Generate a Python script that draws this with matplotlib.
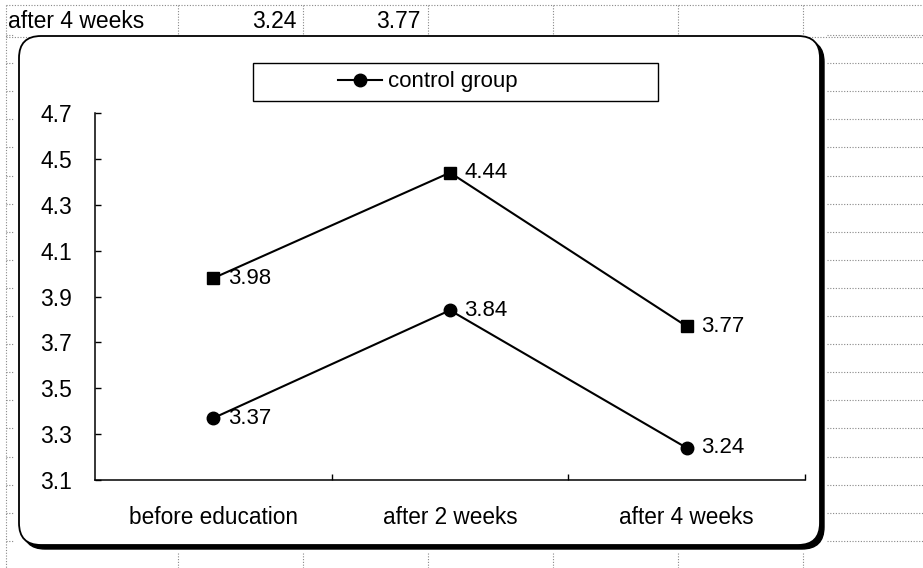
import matplotlib
matplotlib.use("Agg")
import matplotlib.pyplot as plt
from matplotlib.patches import FancyBboxPatch, Rectangle
from matplotlib.lines import Line2D

plt.rcParams['font.family'] = ['Liberation Sans', 'DejaVu Sans']

# data
categories = ["before education", "after 2 weeks", "after 4 weeks"]
control = [3.37, 3.84, 3.24]
experimental = [3.98, 4.44, 3.77]
yticks = [3.1, 3.3, 3.5, 3.7, 3.9, 4.1, 4.3, 4.5, 4.7]

W, H = 923, 568
fig = plt.figure(figsize=(W / 100, H / 100), dpi=100)
fig.patch.set_facecolor("white")


def px(x, y):
  # pixel coords from top-left -> inches from bottom-left
  return x / 100, (H - y) / 100


def grid_line(x0, y0, x1, y1):
  a = px(x0, y0)
  b = px(x1, y1)
  fig.add_artist(Line2D([a[0], b[0]], [a[1], b[1]], transform=fig.dpi_scale_trans,
                        color="#888888", lw=0.8, ls=(0, (1, 1.5)), zorder=-5))


# spreadsheet background behind the chart
grid_line(6, 5, 923, 5)
grid_line(6, 37, 923, 37)
grid_line(6, 5, 6, 568)
for k in range(19):
  y = 35 + 28.1 * k
  grid_line(827, y, 923, y)
  grid_line(6, y, 14, y)
for x in [178, 303, 428, 553, 678, 803]:
  grid_line(x, 5, x, 35)
  grid_line(x, 553, x, 568)

# row of the sheet peeking out above the chart
tx, ty = px(8, 22)
fig.text(tx / (W / 100), ty / (H / 100), categories[2], fontsize=16.5, va="center", ha="left")
for x, v in zip([296, 420], [control[2], experimental[2]]):
  tx, ty = px(x, 22)
  fig.text(tx / (W / 100), ty / (H / 100), "%.2f" % v, fontsize=16.5, va="center", ha="right")

# chart area with rounded corners and shadow on right/bottom
x0, y0 = px(19, 545)
bw, bh = (820 - 19) / 100, (545 - 36) / 100
shadow = FancyBboxPatch((x0 + 0.04, y0 - 0.04), bw, bh,
                        boxstyle="round,pad=0,rounding_size=0.22",
                        transform=fig.dpi_scale_trans, fc="black", ec="black", lw=1, zorder=-2)
box = FancyBboxPatch((x0, y0), bw, bh,
                     boxstyle="round,pad=0,rounding_size=0.22",
                     transform=fig.dpi_scale_trans, fc="white", ec="black", lw=1.3, zorder=-1)
fig.add_artist(shadow)
fig.add_artist(box)

ax = fig.add_axes([95 / W, 1 - 480 / H, (805 - 95) / W, (480 - 113) / H])
ax.patch.set_alpha(0)

xs = range(len(categories))
ax.plot(xs, experimental, color="black", lw=1.5, marker="s", ms=9, clip_on=False)
ax.plot(xs, control, color="black", lw=1.5, marker="o", ms=9, clip_on=False,
        label="control group")

for series in [experimental, control]:
  for i, v in enumerate(series):
    ax.annotate("%.2f" % v, (i, v), xytext=(10.5, 0), textcoords="offset points",
                fontsize=16, va="center", ha="left")

ax.set_xlim(-0.5, len(categories) - 0.5)
ax.set_ylim(yticks[0], yticks[-1])
ax.set_yticks(yticks)
ax.set_yticklabels(["%.1f" % t for t in yticks])
ax.set_xticks(list(xs))
ax.set_xticklabels(categories)
ax.set_xticks([i + 0.5 for i in xs], minor=True)

ax.spines["top"].set_visible(False)
ax.spines["right"].set_visible(False)
ax.spines["left"].set_linewidth(1.1)
ax.spines["bottom"].set_linewidth(1.1)
ax.tick_params(axis="y", direction="in", length=4, width=1, pad=16.5, labelsize=16.5)
ax.tick_params(axis="x", which="major", length=0, pad=19, labelsize=16.3)
ax.tick_params(axis="x", which="minor", direction="in", length=4, width=1)

# legend box (only the control series is listed in the original)
lx, ly = px(253, 101)
fig.add_artist(Rectangle((lx, ly), (658 - 253) / 100, (101 - 63) / 100,
                         transform=fig.dpi_scale_trans, fc="white", ec="black", lw=1, zorder=1))
leg = fig.legend(loc="center", bbox_to_anchor=(428 / W, 1 - 82 / H), frameon=False,
                 fontsize=16, handlelength=1.95, handletextpad=0.3, borderpad=0)
leg.set_zorder(2)

fig.savefig("out.png", dpi=100)
